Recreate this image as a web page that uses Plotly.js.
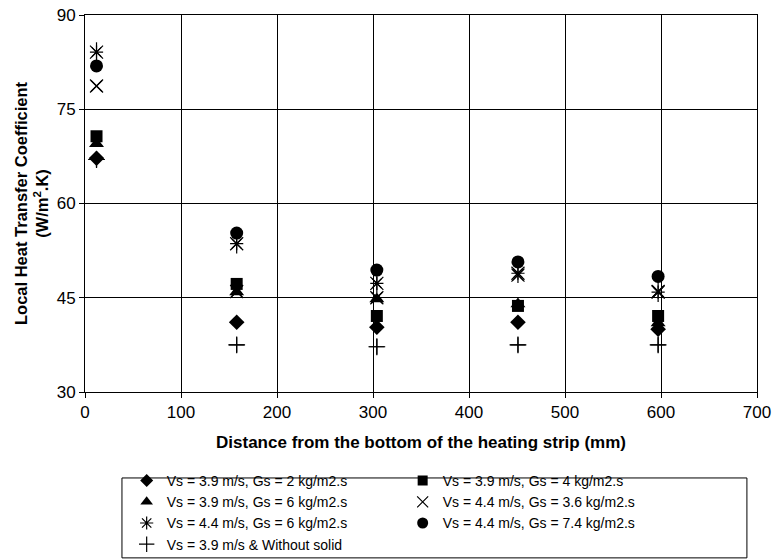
<!DOCTYPE html>
<html>
<head>
<meta charset="utf-8">
<script src="https://cdn.plot.ly/plotly-3.0.1.min.js"></script>
<style>body{margin:0;background:#fff;}#chart{width:772px;height:560px;}</style>
</head>
<body>
<div id="chart"></div>
<script>
// Data
var distance = [12, 158, 304, 451, 597];
var vs39_gs2 = [67.2, 41.1, 40.3, 41.1, 40.0];
var vs39_gs4 = [70.7, 47.2, 42.1, 43.7, 42.1];
var vs39_gs6 = [69.5, 45.9, 44.8, 44.0, 41.0];
var vs44_gs36 = [78.7, 46.0, 45.0, 48.6, 46.0];
var vs44_gs6 = [84.1, 53.6, 47.3, 48.9, 45.9];
var vs44_gs74 = [81.9, 55.3, 49.4, 50.7, 48.4];
var vs39_nosolid = [67.0, 37.5, 37.2, 37.5, 37.5];

var names = [
  'Vs = 3.9 m/s, Gs = 2 kg/m2.s',
  'Vs = 3.9 m/s, Gs = 4 kg/m2.s',
  'Vs = 3.9 m/s, Gs = 6 kg/m2.s',
  'Vs = 4.4 m/s, Gs = 3.6 kg/m2.s',
  'Vs = 4.4 m/s, Gs = 6 kg/m2.s',
  'Vs = 4.4 m/s, Gs = 7.4 kg/m2.s',
  'Vs = 3.9 m/s & Without solid'
];

function tr(y, name, symbol, size, lw, show) {
  return {
    x: distance, y: y, name: name, type: 'scatter', mode: 'markers',
    showlegend: show !== false,
    marker: {symbol: symbol, size: size, color: '#000', line: {color: '#000', width: lw}}
  };
}

var traces = [
  tr(vs39_nosolid, names[6], 'cross-thin-open', 12, 1.2, false),
  tr(vs44_gs74, names[5], 'circle', 13, 0, false),
  tr(vs44_gs6, names[4], 'x-thin-open', 13, 1.2, false),
  tr(vs44_gs6, names[4], 'line-ns-open', 14, 1.2, false),
  tr(vs44_gs36, names[3], 'x-thin-open', 13, 1.2, false),
  tr(vs39_gs6, names[2], 'triangle-up', 13, 0, false),
  tr(vs39_gs4, names[1], 'square', 12, 0, false),
  tr(vs39_gs2, names[0], 'diamond', 12, 0, false)
];
// legend entries (same data, drawn underneath identically)
var legendTraces = [
  tr(vs39_gs2, names[0], 'diamond', 10, 0),
  tr(vs39_gs4, names[1], 'square', 10, 0),
  tr(vs39_gs6, names[2], 'triangle-up', 11, 0),
  tr(vs44_gs36, names[3], 'x-thin-open', 11, 1.2),
  tr(vs44_gs6, names[4], 'asterisk-open', 11, 1.2),
  tr(vs44_gs74, names[5], 'circle', 11, 0),
  tr(vs39_nosolid, names[6], 'cross-thin-open', 11, 1.2)
];

var data = legendTraces.concat(traces);

var layout = {
  width: 772, height: 560,
  margin: {l: 85, r: 15, t: 15, b: 168},
  paper_bgcolor: '#fff', plot_bgcolor: '#fff',
  font: {family: 'Liberation Sans, Arial, sans-serif', color: '#000', size: 14},
  showlegend: true,
  xaxis: {
    range: [0, 700], dtick: 100, tick0: 0,
    showgrid: true, gridcolor: '#000', gridwidth: 1,
    zeroline: false, showline: true, linecolor: '#000', linewidth: 1, mirror: true,
    ticks: 'outside', ticklen: 5, tickcolor: '#000',
    tickfont: {size: 17},
    title: {text: '<b>Distance from the bottom of the heating strip (mm)</b>', font: {size: 17}, standoff: 14}
  },
  yaxis: {
    range: [30, 90], dtick: 15, tick0: 30,
    showgrid: true, gridcolor: '#000', gridwidth: 1,
    zeroline: false, showline: true, linecolor: '#000', linewidth: 1, mirror: true,
    ticks: 'outside', ticklen: 5, tickcolor: '#000',
    tickfont: {size: 17},
    title: {text: '<b>Local Heat Transfer Coefficient<br>(W/m<sup>2</sup>.K)</b>', font: {size: 16.5}, standoff: 3}
  },
  legend: {
    orientation: 'h', x: 0.062, xanchor: 'left',
    yref: 'container', y: 0.0, yanchor: 'bottom',
    entrywidth: 231, entrywidthmode: 'pixels',
    font: {size: 14}, bgcolor: 'rgba(0,0,0,0)', borderwidth: 0,
    tracegroupgap: 0, itemwidth: 30
  },
  shapes: [{
    type: 'rect', xref: 'paper', yref: 'paper',
    x0: 0.055, x1: 0.985, y0: -0.44, y1: -0.228,
    line: {color: '#000', width: 1}, fillcolor: 'rgba(0,0,0,0)'
  }]
};

Plotly.newPlot('chart', data, layout, {displayModeBar: false, staticPlot: true});
</script>
</body>
</html>
